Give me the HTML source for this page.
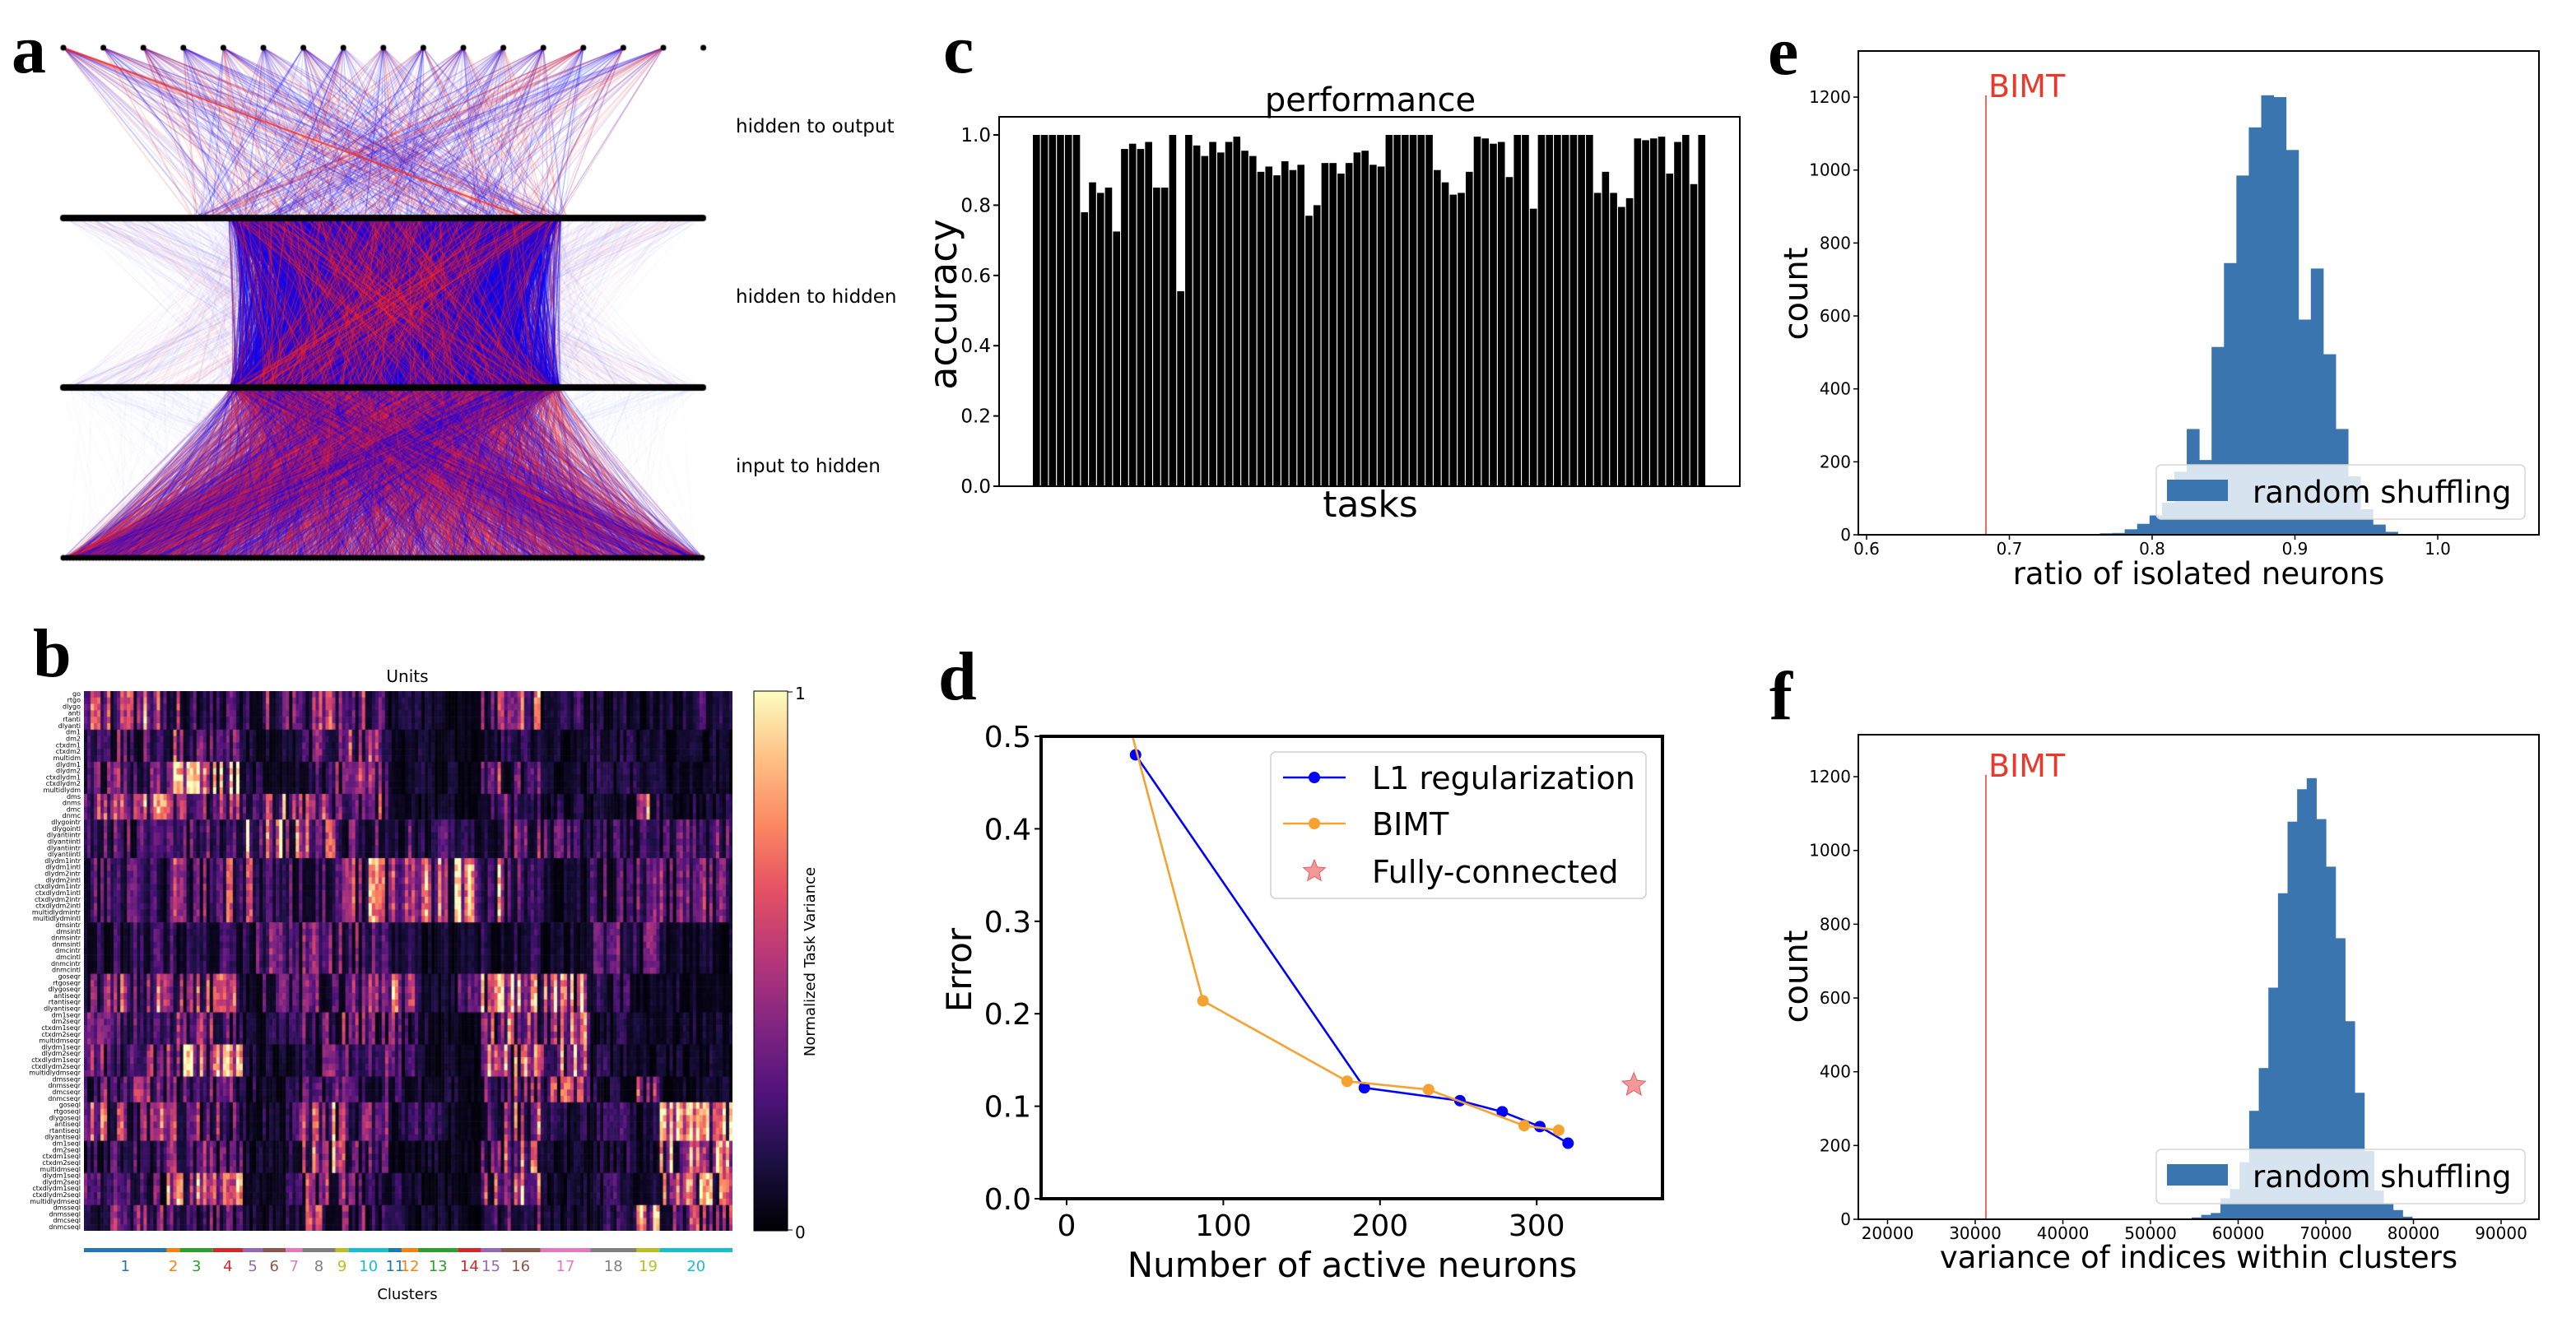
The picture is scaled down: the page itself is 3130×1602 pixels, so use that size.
<!DOCTYPE html>
<html><head><meta charset="utf-8">
<style>
html,body{margin:0;padding:0;background:#fff;}
body{width:3130px;height:1602px;position:relative;overflow:hidden;font-family:"DejaVu Sans","Liberation Sans",sans-serif;}
canvas{position:absolute;}
svg{position:absolute;left:0;top:0;}
</style></head>
<body>
<canvas id="net" width="900" height="720" style="left:0;top:0"></canvas>
<canvas id="heat" width="788" height="656" style="left:102px;top:840px"></canvas>
<svg id="main" width="3130" height="1602" xmlns="http://www.w3.org/2000/svg"></svg>
<script>
// ---------- Panel c data ----------
const taskAcc = [1,1,1,1,1,1,0.78,0.865,0.835,0.85,0.725,0.96,0.975,0.96,0.98,0.85,0.85,1.0,0.555,1.0,0.97,0.94,0.98,0.95,0.98,0.995,0.955,0.94,0.895,0.91,0.885,0.925,0.9,0.915,0.77,0.8,0.92,0.92,0.89,0.92,0.95,0.955,0.915,0.91,1,1,1,1,1,1,0.9,0.865,0.83,0.835,0.895,0.995,0.99,0.975,0.98,0.88,1.0,1.0,0.79,1,1,1,1,1,1,1,0.835,0.895,0.835,0.795,0.82,0.99,0.985,0.99,0.995,0.89,0.98,1.0,0.86,1.0];
const accTicks = [0.0,0.2,0.4,0.6,0.8,1.0];
// ---------- Panel d data ----------
const l1X = [44,190,251,278,302,320];
const l1Y = [0.48,0.12,0.106,0.094,0.078,0.06];
const bimtX = [35,87,179,231,292,314];
const bimtY = [0.545,0.214,0.127,0.118,0.079,0.074];
const fcX = [362];
const fcY = [0.123];
const dXTicks = [0,100,200,300];
const dYTicks = [0.0,0.1,0.2,0.3,0.4,0.5];
// ---------- Panel e data ----------
const eBinStart = 0.7634, eBinWidth = 0.00869;
const eCounts = [4,5,15,30,53,88,173,290,205,515,745,985,1117,1205,1200,1055,590,730,495,290,160,70,28,8];
const eBimt = 0.6836;
const eXTicks = [0.6,0.7,0.8,0.9,1.0];
const eYTicks = [0,200,400,600,800,1000,1200];
// ---------- Panel f data ----------
const fBinStart = 54695, fBinWidth = 1094;
const fCounts = [5,12,17,57,82,155,294,410,628,884,1078,1166,1196,1085,956,762,537,343,185,78,42,25,7];
const fBimt = 31220;
const fXTicks = [20000,30000,40000,50000,60000,70000,80000,90000];
const fYTicks = [0,200,400,600,800,1000,1200];
// ---------- Panel b data ----------
const clusterSizes = [25,4,10,9,6,7,5,10,4,12,4,5,12,7,6,12,15,14,7,22];
const clusterColors = ["#1f77b4","#ff7f0e","#2ca02c","#d62728","#9467bd","#8c564b","#e377c2","#7f7f7f","#bcbd22","#17becf","#1f77b4","#ff7f0e","#2ca02c","#d62728","#9467bd","#8c564b","#e377c2","#7f7f7f","#bcbd22","#17becf"];
const taskNames = ["go","rtgo","dlygo","anti","rtanti","dlyanti","dm1","dm2","ctxdm1","ctxdm2","multidm","dlydm1","dlydm2","ctxdlydm1","ctxdlydm2","multidlydm","dms","dnms","dmc","dnmc","dlygointr","dlygointl","dlyantiintr","dlyantiintl","dlyantiintr","dlyantiintl","dlydm1intr","dlydm1intl","dlydm2intr","dlydm2intl","ctxdlydm1intr","ctxdlydm1intl","ctxdlydm2intr","ctxdlydm2intl","multidlydmintr","multidlydmintl","dmsintr","dmsintl","dnmsintr","dnmsintl","dmcintr","dmcintl","dnmcintr","dnmcintl","goseqr","rtgoseqr","dlygoseqr","antiseqr","rtantiseqr","dlyantiseqr","dm1seqr","dm2seqr","ctxdm1seqr","ctxdm2seqr","multidmseqr","dlydm1seqr","dlydm2seqr","ctxdlydm1seqr","ctxdlydm2seqr","multidlydmseqr","dmsseqr","dnmsseqr","dmcseqr","dnmcseqr","goseql","rtgoseql","dlygoseql","antiseql","rtantiseql","dlyantiseql","dm1seql","dm2seql","ctxdm1seql","ctxdm2seql","multidmseql","dlydm1seql","dlydm2seql","ctxdlydm1seql","ctxdlydm2seql","multidlydmseql","dmsseql","dnmsseql","dmcseql","dnmcseql"];
const taskGroupSizes = [6,5,5,4,6,10,8,6,5,5,4,6,5,5,4];
const blockVar = [
[.6,.5,.3,.3,.25,.55,.5,.5,.45,.4,.1,.15,.1,.05,.45,.55,.2,.15,.15,.2],
[.3,.6,.4,.35,.15,.15,.1,.3,.5,.45,.1,.1,.1,.05,.1,.2,.1,.15,.1,.1],
[.35,.8,.75,.75,.15,.1,.1,.3,.5,.5,.1,.1,.1,.05,.5,.3,.1,.15,.1,.1],
[.55,.5,.5,.45,.2,.55,.45,.55,.45,.4,.1,.1,.1,.05,.2,.3,.15,.1,.55,.15],
[.3,.25,.3,.35,.8,.7,.75,.6,.3,.35,.2,.35,.3,.15,.3,.4,.3,.2,.3,.3],
[.25,.45,.3,.45,.4,.35,.3,.25,.5,.6,.7,.7,.7,.7,.7,.3,.15,.25,.3,.35],
[.2,.2,.15,.2,.35,.35,.3,.4,.35,.3,.15,.15,.1,.1,.15,.15,.1,.3,.4,.1],
[.55,.5,.45,.45,.2,.3,.3,.35,.35,.4,.6,.4,.15,.35,.6,.8,.75,.2,.1,.1],
[.3,.5,.4,.35,.15,.15,.15,.3,.45,.35,.45,.2,.1,.05,.55,.6,.6,.15,.1,.1],
[.35,.7,.75,.75,.15,.1,.1,.3,.45,.35,.45,.2,.1,.05,.6,.65,.6,.15,.1,.1],
[.4,.4,.4,.35,.15,.1,.15,.3,.35,.3,.3,.15,.1,.05,.35,.4,.45,.15,.5,.1],
[.5,.45,.45,.45,.15,.15,.3,.6,.4,.35,.2,.2,.2,.05,.5,.55,.15,.25,.15,.8],
[.25,.4,.35,.3,.1,.1,.2,.55,.45,.3,.15,.1,.1,.05,.3,.55,.1,.15,.1,.7],
[.3,.6,.7,.7,.1,.1,.2,.55,.45,.3,.15,.1,.1,.05,.5,.6,.1,.2,.1,.7],
[.35,.35,.35,.3,.1,.1,.2,.5,.4,.3,.15,.1,.1,.05,.3,.4,.1,.2,.6,.45]];

const NS="http://www.w3.org/2000/svg";
const svg=document.getElementById('main');
function mk(tag,attrs,parent,name,inter){const e=document.createElementNS(NS,tag);for(const k in attrs)e.setAttribute(k,attrs[k]);
 
 
 (parent||svg).appendChild(e);return e;}
function txt(x,y,s,size,opts,name){opts=opts||{};const t=mk('text',Object.assign({x:x,y:y,'font-size':size,'font-family':opts.ff||'"DejaVu Sans","Liberation Sans",sans-serif','text-anchor':opts.anchor||'start',fill:opts.fill||'#000'},opts.extra||{}),opts.parent,name||'label');t.textContent=s;if(opts.rot!==undefined)t.setAttribute('transform','rotate('+opts.rot+' '+x+' '+y+')');if(opts.bold)t.setAttribute('font-weight','bold');return t;}

// panel letters
[['a',14,88],['b',40,822],['c',1146,88],['d',1140,850],['e',2148,90],['f',2150,874]].forEach(l=>{txt(l[1],l[2],l[0],84,{ff:'"Liberation Serif",serif',bold:true},'panel-letter-'+l[0]);});

// ---------- Panel c ----------
(function(){
 const L=1214,R=2114,T=142,B=591;
 const y=v=>B-v*427;
 const slot=9.74, x0=1255, bw=8.6;
 const g=mk('g',{},svg,'accuracy-bar-chart');
 taskAcc.forEach((v,i)=>{mk('rect',{x:x0+i*slot,y:y(v),width:bw,height:B-y(v),fill:'#000'},g,'bar-task-'+(i+1));});
 mk('rect',{x:L,y:T,width:R-L,height:B-T,fill:'none',stroke:'#000','stroke-width':2},g,'plot-frame');
 accTicks.forEach(v=>{mk('line',{x1:L-7,x2:L,y1:y(v),y2:y(v),stroke:'#000','stroke-width':2},g,'y-tick');
  txt(L-10,y(v)+8,v.toFixed(1),23,{anchor:'end',parent:g},'y-tick-label');});
 txt(1665,135,'performance',40,{anchor:'middle',parent:g},'chart-title');
 txt(1665,628,'tasks',44,{anchor:'middle',parent:g},'x-axis-title');
 txt(1162,370,'accuracy',46,{anchor:'middle',rot:-90,parent:g},'y-axis-title');
})();

// ---------- Panel d ----------
(function(){
 const L=1265,R=2020,T=895,B=1457;
 const x=v=>1296+1.904*v, y=v=>B-1124*v;
 const g=mk('g',{},svg,'error-line-chart');
 mk('clipPath',{id:'dclip'},g,'clip');
 mk('rect',{x:L,y:T,width:R-L,height:B-T},document.getElementById('dclip'),'clip-rect');
 const pg=mk('g',{'clip-path':'url(#dclip)'},g,'plot-area');
 function series(xs,ys,col,name){
  mk('polyline',{points:xs.map((v,i)=>x(v)+','+y(ys[i])).join(' '),fill:'none',stroke:col,'stroke-width':2.6},pg,name+'-line');
  xs.forEach((v,i)=>mk('circle',{cx:x(v),cy:y(ys[i]),r:7,fill:col},pg,name+'-point'));
 }
 series(l1X,l1Y,'#0000ff','l1');
 series(bimtX,bimtY,'#f5a230','bimt');
 function star(cx,cy,ro,parent,name){let p=[];for(let k=0;k<10;k++){const a=-Math.PI/2+k*Math.PI/5;const rr=k%2?ro*0.45:ro;p.push((cx+rr*Math.cos(a)).toFixed(1)+','+(cy+rr*Math.sin(a)).toFixed(1));}
  return mk('polygon',{points:p.join(' '),fill:'#f08080','fill-opacity':0.8,stroke:'#e06060','stroke-width':1},parent,name);}
 fcX.forEach((v,i)=>star(x(v),y(fcY[i]),15,pg,'fully-connected-marker'));
 mk('rect',{x:L,y:T,width:R-L,height:B-T,fill:'none',stroke:'#000','stroke-width':4},g,'plot-frame');
 dXTicks.forEach(v=>{mk('line',{x1:x(v),x2:x(v),y1:B,y2:B+8,stroke:'#000','stroke-width':2},g,'x-tick');txt(x(v),B+45,String(v),36,{anchor:'middle',parent:g},'x-tick-label');});
 dYTicks.forEach(v=>{mk('line',{x1:L-8,x2:L,y1:y(v),y2:y(v),stroke:'#000','stroke-width':2},g,'y-tick');txt(L-12,y(v)+13,v.toFixed(1),36,{anchor:'end',parent:g},'y-tick-label');});
 txt(1643,1552,'Number of active neurons',42,{anchor:'middle',parent:g},'x-axis-title');
 txt(1180,1179,'Error',42,{anchor:'middle',rot:-90,parent:g},'y-axis-title');
 const lg=mk('g',{},g,'legend');
 mk('rect',{x:1544,y:914,width:456,height:178,rx:6,fill:'#fff','fill-opacity':0.85,stroke:'#d0d0d0','stroke-width':1.5},lg,'legend-frame');
 mk('line',{x1:1559,x2:1635,y1:945,y2:945,stroke:'#0000ff','stroke-width':2.6},lg,'legend-l1-line');mk('circle',{cx:1597,cy:945,r:7,fill:'#0000ff'},lg,'legend-l1-marker');
 txt(1667,959,'L1 regularization',38,{parent:lg},'legend-entry');
 mk('line',{x1:1559,x2:1635,y1:1001,y2:1001,stroke:'#f5a230','stroke-width':2.6},lg,'legend-bimt-line');mk('circle',{cx:1597,cy:1001,r:7,fill:'#f5a230'},lg,'legend-bimt-marker');
 txt(1667,1015,'BIMT',38,{parent:lg},'legend-entry');
 star(1597,1059,14,lg,'legend-star');
 txt(1667,1073,'Fully-connected',38,{parent:lg},'legend-entry');
})();

// ---------- Histograms e, f ----------
function hist(o){
 const g=mk('g',{},svg,o.name);
 const x=o.x,y=o.y;
 o.counts.forEach((c,i)=>{const x1=x(o.start+i*o.w),x2=x(o.start+(i+1)*o.w);mk('rect',{x:x1,y:y(c),width:x2-x1+0.5,height:o.B-y(c),fill:'#3a75af'},g,'histogram-bar');});
 mk('line',{x1:x(o.bimt),x2:x(o.bimt),y1:o.B,y2:y(1205),stroke:'#e8392b','stroke-width':1.5},g,'bimt-line');
 txt(x(o.bimt)+3,y(1205)+2,'BIMT',38,{fill:'#e8392b',parent:g},'bimt-label');
 mk('rect',{x:o.L,y:o.T,width:o.R-o.L,height:o.B-o.T,fill:'none',stroke:'#000','stroke-width':2},g,'plot-frame');
 o.xt.forEach(v=>{mk('line',{x1:x(v),x2:x(v),y1:o.B,y2:o.B+6,stroke:'#000','stroke-width':1.5},g,'x-tick');txt(x(v),o.B+24,o.xf(v),20,{anchor:'middle',parent:g},'x-tick-label');});
 o.yt.forEach(v=>{mk('line',{x1:o.L-6,x2:o.L,y1:y(v),y2:y(v),stroke:'#000','stroke-width':1.5},g,'y-tick');txt(o.L-9,y(v)+7,String(v),20,{anchor:'end',parent:g},'y-tick-label');});
 txt((o.L+o.R)/2,o.xlY,o.xl,37,{anchor:'middle',parent:g},'x-axis-title');
 txt(2196,o.cy,'count',40,{anchor:'middle',rot:-90,parent:g},'y-axis-title');
 const lg=mk('g',{},g,'legend');
 mk('rect',{x:2620,y:o.lgY,width:448,height:66,rx:6,fill:'#fff','fill-opacity':0.8,stroke:'#d5d5d5','stroke-width':1.5},lg,'legend-frame');
 mk('rect',{x:2633,y:o.lgY+18,width:74,height:26,fill:'#3a75af'},lg,'legend-patch');
 txt(2737,o.lgY+46,'random shuffling',37,{parent:lg},'legend-entry');
}
hist({name:'hist-e',L:2258,R:3085,T:62,B:650,x:v=>2268+(v-0.6)*1735,y:v=>650-v*0.4433,counts:eCounts,start:eBinStart,w:eBinWidth,bimt:eBimt,xt:eXTicks,yt:eYTicks,xf:v=>v.toFixed(1),xl:'ratio of isolated neurons',xlY:710,cy:357,lgY:565});
hist({name:'hist-f',L:2258,R:3085,T:893,B:1482,x:v=>2293.5+(v-20000)*0.01065,y:v=>1482-v*0.4483,counts:fCounts,start:fBinStart,w:fBinWidth,bimt:fBimt,xt:fXTicks,yt:fYTicks,xf:v=>String(v),xl:'variance of indices within clusters',xlY:1541,cy:1187,lgY:1397});

// ---------- Panel b ----------
(function(){
 const stops=[[0,[0,0,4]],[.13,[28,16,68]],[.25,[79,18,123]],[.38,[129,37,129]],[.5,[181,54,122]],[.63,[229,80,100]],[.75,[251,135,97]],[.88,[254,194,135]],[1,[252,253,191]]];
 function magma(v){v=Math.max(0,Math.min(1,v));for(let i=1;i<stops.length;i++){if(v<=stops[i][0]){const a=stops[i-1],b=stops[i],t=(v-a[0])/(b[0]-a[0]);return 'rgb('+a[1].map((c,k)=>Math.round(c+(b[1][k]-c)*t)).join(',')+')';}}return 'rgb(252,253,191)';}
 const H=document.getElementById('heat').getContext('2d');
 const nUnits=clusterSizes.reduce((a,b)=>a+b,0), nT=taskNames.length;
 const cw=788/nUnits, rh=656/nT;
 function hash(a,b){let s=(a*73856093)^(b*19349663);s=Math.imul(s^(s>>>13),1274126177);s=s^(s>>>16);return ((s>>>0)%1000)/1000;}
 let row=0;
 taskGroupSizes.forEach((gs,gi)=>{for(let r=0;r<gs;r++,row++){let col=0;clusterSizes.forEach((cs,ci)=>{for(let u=0;u<cs;u++,col++){const ch=hash(col,gi+500);const m=(0.1+1.6*Math.pow(ch,1.4))*(0.75+0.5*hash(col,row));H.fillStyle=magma(blockVar[gi][ci]*m*0.9);H.fillRect(col*cw,row*rh,cw+0.6,rh+0.6);}});}});
 const g=mk('g',{},svg,'heatmap-annotations');
 txt(495,829,'Units',20,{anchor:'middle',parent:g},'heatmap-title');
 taskNames.forEach((n,i)=>txt(98,840+(i+0.75)*rh,n,8,{anchor:'end',parent:g},'task-label'));
 const defs=mk('defs',{},g,'defs');const lgr=mk('linearGradient',{id:'magma',x1:0,y1:1,x2:0,y2:0},defs,'colormap');
 stops.forEach(s=>mk('stop',{offset:s[0],'stop-color':'rgb('+s[1].join(',')+')'},lgr,'stop'));
 mk('rect',{x:916,y:840,width:41,height:656,fill:'url(#magma)',stroke:'#000','stroke-width':1},g,'colorbar');
 mk('line',{x1:957,x2:963,y1:841,y2:841,stroke:'#000'},g,'colorbar-tick');mk('line',{x1:957,x2:963,y1:1495,y2:1495,stroke:'#000'},g,'colorbar-tick');
 txt(966,850,'1',20,{parent:g},'colorbar-label');txt(966,1505,'0',20,{parent:g},'colorbar-label');
 txt(990,1169,'Normalized Task Variance',18,{anchor:'middle',rot:-90,parent:g},'colorbar-title');
 let c0=0;clusterSizes.forEach((cs,ci)=>{const xa=102+c0*cw,xb=102+(c0+cs)*cw;mk('rect',{x:xa,y:1517,width:xb-xa,height:5,fill:clusterColors[ci]},g,'cluster-strip-'+(ci+1));txt((xa+xb)/2,1545,String(ci+1),18,{anchor:'middle',fill:clusterColors[ci],parent:g},'cluster-label');c0+=cs;});
 txt(495,1579,'Clusters',18,{anchor:'middle',parent:g},'x-axis-title');
})();

// ---------- Panel a ----------
(function(){
 const c=document.getElementById('net').getContext('2d');
 let s=7;const rnd=()=>{s=(s*1103515245+12345)%2147483648;return s/2147483648;};
 const yO=58,yH1=265,yH2=471,yI=678,xl=77,xr=855;
 const blue='0,0,255',red='255,40,20';
 function ln(x1,y1,x2,y2,col,a,w){c.strokeStyle='rgba('+col+','+a+')';c.lineWidth=w||1;c.beginPath();c.moveTo(x1,y1);c.lineTo(x2,y2);c.stroke();}
 // input to hidden
 for(let i=0;i<600;i++){const xa=xl+rnd()*(xr-xl),xb=xl+rnd()*(xr-xl);ln(xa,yI,xb,yH2,blue,0.03,1);}
 for(let i=0;i<5000;i++){const xa=xl+Math.pow(rnd(),1.1)*(xr-xl),xb=278+rnd()*404;ln(xa,yI,xb,yH2,rnd()<0.5?red:blue,0.1+rnd()*0.35,1);}
 // hidden to hidden
 for(let i=0;i<700;i++){const side=rnd()<0.5;const xa=side?xl+rnd()*200:655+rnd()*200,xb=278+rnd()*404;if(rnd()<0.5)ln(xa,yH1,xb,yH2,rnd()<0.7?blue:red,0.06,1);else ln(xb,yH1,xa,yH2,rnd()<0.6?blue:red,0.06,1);}
 for(let i=0;i<9000;i++){const xa=278+rnd()*404,xb=278+rnd()*404;ln(xa,yH1,xb,yH2,rnd()<0.7?blue:'150,20,90',0.2+rnd()*0.35,1);}
 for(let i=0;i<250;i++){const xa=278+rnd()*404,xb=278+rnd()*404;ln(xa,yH1,xb,yH2,red,0.5,1);}
 // hidden to output
 for(let j=0;j<16;j++){const xo=xl+j*48.6;for(let k=0;k<45;k++){const xb=230+rnd()*460;ln(xo,yO,xb,yH1,rnd()<0.6?blue:red,0.08+rnd()*0.3,1);}}
 ln(xl,yO,640,yH1,red,0.8,2);
 c.fillStyle='#000';
 for(let j=0;j<17;j++){c.beginPath();c.arc(xl+j*48.6,yO,3.5,0,7);c.fill();}
 [yH1,yH2].forEach(yy=>{for(let xx=xl;xx<=xr;xx+=3){c.beginPath();c.arc(xx,yy,4,0,7);c.fill();}});
 for(let xx=xl;xx<=xr;xx+=4){c.beginPath();c.arc(xx,yI,3.5,0,7);c.fill();}
 txt(894,161,'hidden to output',23,{},'layer-label');
 txt(894,368,'hidden to hidden',23,{},'layer-label');
 txt(894,574,'input to hidden',23,{},'layer-label');
})();
</script>
</body></html>
